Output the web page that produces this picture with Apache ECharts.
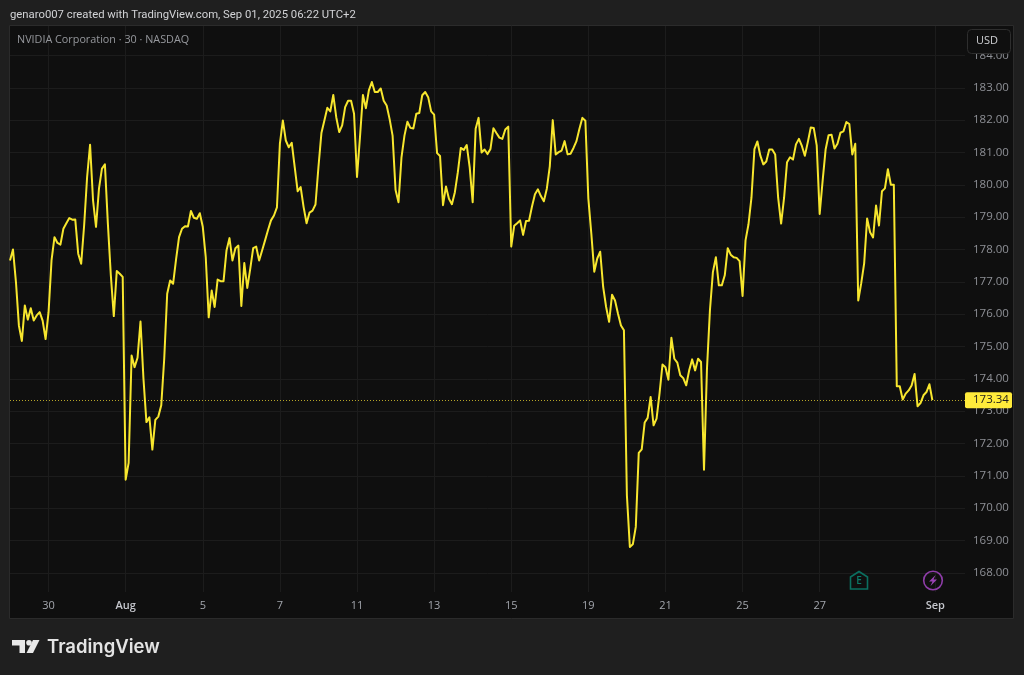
<!DOCTYPE html>
<html>
<head>
<meta charset="utf-8">
<style>html,body{margin:0;padding:0;background:#1f1f1f}#c{width:1024px;height:675px}</style>
<script src="https://cdn.jsdelivr.net/npm/echarts@6/dist/echarts.min.js"></script>
</head>
<body>
<div id="c"></div>
<script>
// 30-minute closes, 13 bars per session, Jul 29 open onward
const prices = [
177.66,178.0,177.0,175.65,175.17,176.27,175.83,176.18,175.8,175.96,176.06,175.8,175.23,
176.06,177.66,178.38,178.2,178.15,178.64,178.81,178.97,178.92,178.93,177.87,177.56,178.75,
180.24,181.24,179.52,178.7,179.88,180.5,180.63,178.8,177.2,175.94,177.33,177.25,177.15,
170.88,171.4,174.72,174.36,174.65,175.77,174.0,172.66,172.81,171.81,172.73,172.83,173.18,
174.62,176.63,177.04,176.94,177.7,178.38,178.64,178.72,178.71,179.19,178.98,178.95,179.12,
178.7,177.76,175.9,176.73,176.22,177.07,177.02,177.02,177.97,178.35,177.66,178.04,178.12,
176.25,177.58,176.81,177.4,178.04,178.09,177.66,177.97,178.28,178.6,178.9,179.05,179.3,
181.27,181.99,181.37,181.16,181.3,180.55,179.8,179.93,179.31,178.81,179.14,179.2,179.39,
180.55,181.6,181.99,182.38,182.27,182.78,182.09,181.63,181.84,182.4,182.6,182.6,182.2,
180.24,181.47,182.78,182.37,182.92,183.18,182.87,182.87,182.98,182.6,182.45,182.03,181.52,
179.84,179.46,180.85,181.52,181.95,181.76,181.74,182.2,182.22,182.77,182.87,182.71,182.27,
182.17,180.98,180.89,179.37,179.95,179.57,179.4,179.77,180.39,181.14,181.08,181.23,180.54,
179.46,181.73,182.07,181.0,181.09,180.95,181.11,181.75,181.6,181.46,181.42,181.71,181.8,
178.09,178.73,178.81,178.9,178.45,178.88,178.89,179.33,179.71,179.86,179.65,179.49,179.88,
180.57,182.0,180.94,181.01,181.06,181.35,180.94,180.96,181.14,181.35,181.73,182.07,181.98,
179.58,178.5,177.31,177.72,177.93,176.84,176.22,175.76,176.6,176.42,176.01,175.65,175.5,
170.4,168.8,168.88,169.42,171.71,171.82,172.65,172.79,173.44,172.56,172.77,173.54,174.44,
174.36,173.97,175.27,174.62,174.5,174.11,174.02,173.8,174.26,174.6,174.26,174.62,174.52,
171.19,174.31,176.12,177.3,177.76,176.89,176.89,177.2,178.04,177.84,177.76,177.74,177.64,
176.56,178.28,178.78,179.6,181.1,181.34,180.9,180.63,180.72,181.09,181.09,180.94,179.6,
178.8,179.6,180.7,180.85,180.78,181.25,181.42,181.2,180.9,181.32,181.77,181.76,181.22,
179.1,180.13,181.09,181.53,181.55,181.12,181.27,181.61,181.65,181.94,181.88,180.94,181.27,
176.42,176.95,177.57,178.96,178.53,178.37,179.36,178.74,179.8,179.89,180.48,180.0,180.0,
173.77,173.77,173.36,173.54,173.64,173.79,174.15,173.15,173.25,173.49,173.59,173.83,173.34
];
const tickBars = [13,39,65,91,117,143,169,195,221,247,273,312];
const tickLabels = ['30','Aug','5','7','11','13','15','19','21','25','27','Sep'];
const priceTicks = [168,169,170,171,172,173,174,175,176,177,178,179,180,181,182,183,184];
const lastPrice = 173.34;
const titleText = 'genaro007 created with TradingView.com, Sep 01, 2025 06:22 UTC+2';
const legendText = 'NVIDIA Corporation · 30 · NASDAQ';

const FONT = '"Open Sans","Noto Sans",sans-serif';
const GRID = '#1c1c1c';
const YEL = '#f7e62e';
const chart = echarts.init(document.getElementById('c'), null, {renderer:'canvas'});
chart.setOption({
  backgroundColor:'#1f1f1f',
  animation:false,
  grid:{left:10,right:59,top:26,bottom:83,containLabel:false},
  xAxis:{
    type:'value',min:0,max:322,
    axisLine:{show:false},
    axisTick:{show:false,customValues:tickBars},
    splitLine:{show:true,lineStyle:{color:GRID,width:1}},
    axisLabel:{
      customValues:tickBars,margin:8,fontFamily:FONT,fontSize:11,color:'#a3a6ad',
      formatter:v=>{const s=tickLabels[tickBars.indexOf(v)]||'';return /[A-Z]/.test(s)?'{m|'+s+'}':s;},
      rich:{m:{fontFamily:FONT,fontSize:11,fontWeight:600,color:'#c4c6cc'}}
    }
  },
  yAxis:{
    type:'value',position:'right',min:167.406,max:184.911,
    axisLine:{show:false},
    axisTick:{show:false,customValues:priceTicks},
    splitLine:{show:true,lineStyle:{color:GRID,width:1}},
    axisLabel:{customValues:priceTicks,margin:8,fontFamily:FONT,fontSize:11.5,color:'#8f9197',
      formatter:v=>v.toFixed(2)}
  },
  series:[{
    type:'line',showSymbol:false,symbol:'none',
    data:prices.map((v,i)=>[i,v]),
    lineStyle:{color:YEL,width:2,join:'round'},
    z:5,
    markLine:{
      silent:true,symbol:'none',animation:false,
      lineStyle:{color:'#b5a428',type:[1,2],width:1},
      label:{show:true,position:'end',distance:0,formatter:lastPrice.toFixed(2),
        backgroundColor:'#ffeb3b',color:'#1c1c1c',fontFamily:FONT,fontSize:11.5,
        padding:[2,3,2,8],borderRadius:2,width:36},
      data:[{yAxis:lastPrice}]
    }
  }],
  graphic:[
    {type:'rect',z:-10,shape:{x:9.5,y:25.5,width:1004,height:593},style:{fill:'#0f0f0f',stroke:'#2b2b2b',lineWidth:1},silent:true},
    {type:'text',z:20,x:10,y:15,style:{text:titleText,fill:'#d2d3d6',font:'11.3px Roboto,"Open Sans",sans-serif',textVerticalAlign:'middle'}},
    {type:'text',z:20,x:17,y:40,style:{text:legendText,fill:'#96989d',font:'10.8px '+FONT,textVerticalAlign:'middle'}},
    {type:'rect',z:30,shape:{x:967.5,y:29.5,width:43,height:24,r:4},style:{fill:'#0f0f0f',stroke:'#2e2e2e',lineWidth:1}},
    {type:'text',z:31,x:976,y:41,style:{text:'USD',fill:'#cfd0d3',font:'11px '+FONT,textVerticalAlign:'middle'}},
    // earnings marker
    {type:'polygon',z:20,shape:{points:[[850.5,577],[859,571.5],[867.5,577],[867.5,589],[850.5,589]]},style:{fill:'none',stroke:'#0b6f60',lineWidth:1.6}},
    {type:'text',z:21,x:859,y:581,style:{text:'E',fill:'#0b7a69',font:'600 10px '+FONT,textAlign:'center',textVerticalAlign:'middle'}},
    // dividends/news marker
    {type:'circle',z:20,shape:{cx:933,cy:580.5,r:9.3},style:{fill:'none',stroke:'#8e3da8',lineWidth:1.6}},
    {type:'polygon',z:21,shape:{points:[[935.5,575],[929,581.5],[932.5,581.5],[930.5,586],[937,579.5],[933.5,579.5]]},style:{fill:'#9a42b5'}},
    // logo
    {type:'polygon',z:20,shape:{points:[[12,640],[25,640],[25,653],[19.5,653],[19.5,645.5],[12,645.5]]},style:{fill:'#e8e8e8'}},
    {type:'circle',z:20,shape:{cx:29,cy:642.8,r:2.8},style:{fill:'#e8e8e8'}},
    {type:'polygon',z:20,shape:{points:[[33,640],[39.5,640],[33,653],[26.5,653]]},style:{fill:'#e8e8e8'}},
    {type:'text',z:20,x:47,y:647,style:{text:'TradingView',fill:'#e4e4e4',font:'600 18.5px Inter,"Open Sans",sans-serif',textVerticalAlign:'middle'}}
  ]
});
</script>
</body>
</html>
